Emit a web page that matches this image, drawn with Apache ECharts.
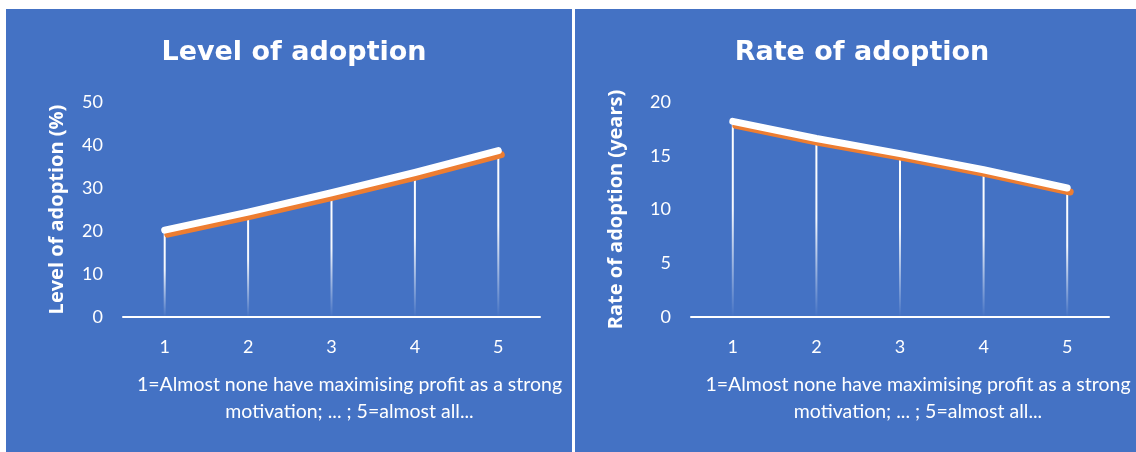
<!DOCTYPE html>
<html>
<head>
<meta charset="utf-8">
<script src="https://cdn.jsdelivr.net/npm/echarts@6/dist/echarts.min.js"></script>
<style>
  html, body { margin: 0; padding: 0; background: #ffffff; }
  #chart { width: 1136px; height: 452px; }
</style>
</head>
<body>
<div id="chart"></div>
<script>
// Motivation scale (1 = almost none maximise profit ... 5 = almost all)
const categories = ['1', '2', '3', '4', '5'];
// Level of adoption (%) by motivation score
const levelValues = [20.2, 24.4, 28.9, 33.6, 38.7];
// Rate of adoption (years) by motivation score
const rateValues = [18.2, 16.6, 15.2, 13.7, 12.0];
const levelTicks = { min: 0, max: 50, interval: 10 };
const rateTicks = { min: 0, max: 20, interval: 5 };

const titles = ['Level of adoption', 'Rate of adoption'];
const yNames = ['Level of adoption (%)', 'Rate of adoption (years)'];
const xName = '1=Almost none have maximising profit as a strong\nmotivation; ... ; 5=almost all...';

const BLUE = '#4472C4';
const ORANGE = '#ED7D31';
const WHITE = '#FFFFFF';
const FONT = 'Lato, "Open Sans", sans-serif';

const chart = echarts.init(document.getElementById('chart'), null, { renderer: 'canvas' });

// Drop lines fade from white at the data point to transparent at the axis
function dropGradient() {
  return new echarts.graphic.LinearGradient(0, 0, 0, 1, [
    { offset: 0, color: 'rgba(255,255,255,1)' },
    { offset: 0.45, color: 'rgba(255,255,255,0.95)' },
    { offset: 1, color: 'rgba(255,255,255,0.0)' }
  ]);
}

function xAxisFor(gridIndex) {
  return {
    type: 'category',
    gridIndex,
    data: categories,
    boundaryGap: true,
    axisLine: { show: true, lineStyle: { color: WHITE, width: 2 } },
    axisTick: { show: false },
    axisLabel: { color: WHITE, fontSize: 18, fontFamily: FONT, margin: 21 },
    name: xName,
    nameLocation: 'middle',
    nameGap: 54,
    nameTextStyle: {
      color: WHITE, fontSize: 19.5, fontFamily: FONT, lineHeight: 27,
      align: 'center', padding: [0, 0, 0, 36]
    }
  };
}

function yAxisFor(gridIndex, ticks, name, gap) {
  return {
    type: 'value',
    gridIndex,
    min: ticks.min,
    max: ticks.max,
    interval: ticks.interval,
    axisLine: { show: false },
    axisTick: { show: false },
    splitLine: { show: false },
    axisLabel: { color: WHITE, fontSize: 18, fontFamily: FONT, margin: 20 },
    name,
    nameLocation: 'middle',
    nameGap: gap,
    nameTextStyle: { color: WHITE, fontSize: 20, fontWeight: 'bold', fontFamily: '"Open Sans", Lato, sans-serif' }
  };
}

function seriesFor(idx, values) {
  return [
    {
      type: 'bar',
      xAxisIndex: idx,
      yAxisIndex: idx,
      data: values,
      barWidth: 2,
      itemStyle: { color: dropGradient() },
      silent: true,
      z: 1
    },
    {
      type: 'line',
      xAxisIndex: idx,
      yAxisIndex: idx,
      data: values,
      showSymbol: false,
      symbol: 'none',
      lineStyle: {
        color: WHITE,
        width: 7,
        cap: 'round',
        join: 'round',
        shadowColor: ORANGE,
        shadowBlur: 0,
        shadowOffsetX: 3,
        shadowOffsetY: 4
      },
      silent: true,
      z: 3
    }
  ];
}

const titleStyle = { color: WHITE, fontSize: 27, fontWeight: 'bold', fontFamily: '"DejaVu Sans", sans-serif' };

const option = {
  animation: false,
  backgroundColor: WHITE,
  graphic: [
    { type: 'rect', z: -10, shape: { x: 6, y: 9, width: 566, height: 443 }, style: { fill: BLUE } },
    { type: 'rect', z: -10, shape: { x: 575, y: 9, width: 561, height: 443 }, style: { fill: BLUE } }
  ],
  title: [
    { text: titles[0], left: 289, top: 34, textAlign: 'center', textStyle: titleStyle },
    { text: titles[1], left: 857, top: 34, textAlign: 'center', textStyle: titleStyle }
  ],
  grid: [
    { left: 123, top: 102, width: 417, height: 215, containLabel: false },
    { left: 691, top: 102, width: 418, height: 215, containLabel: false }
  ],
  xAxis: [xAxisFor(0), xAxisFor(1)],
  yAxis: [
    yAxisFor(0, levelTicks, yNames[0], 56),
    yAxisFor(1, rateTicks, yNames[1], 65)
  ],
  series: [...seriesFor(0, levelValues), ...seriesFor(1, rateValues)]
};

chart.setOption(option);
</script>
</body>
</html>
